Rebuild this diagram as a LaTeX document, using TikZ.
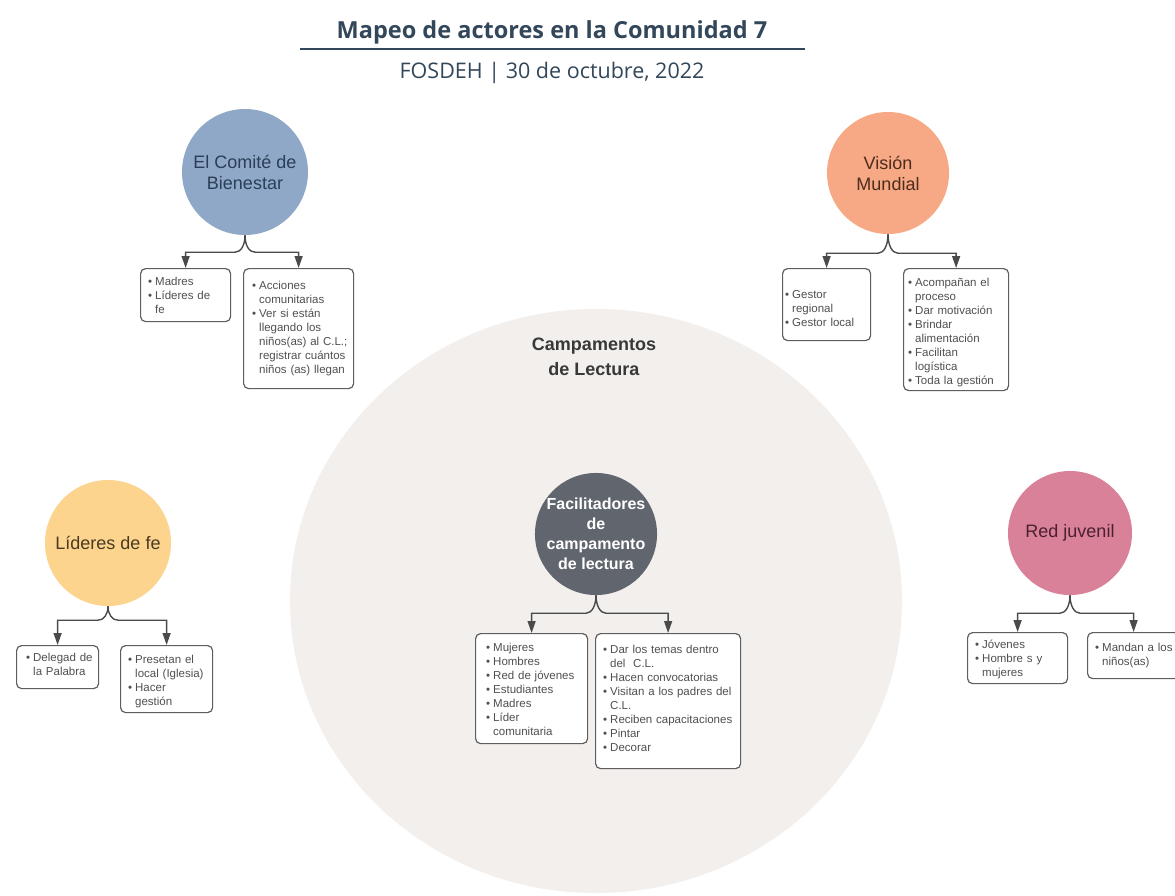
\documentclass[tikz,border=0pt]{standalone}
\usepackage{fontspec}
\setmainfont{Liberation Sans}
\newfontfamily\titlefont{Open Sans}
\usetikzlibrary{arrows.meta,shapes.geometric}
\definecolor{titc}{HTML}{33475B}
\definecolor{comc}{HTML}{8FA8C8}
\definecolor{comt}{HTML}{2B3E57}
\definecolor{visc}{HTML}{F6A984}
\definecolor{vist}{HTML}{4D2C1E}
\definecolor{lidc}{HTML}{FCD48E}
\definecolor{lidt}{HTML}{4A3A22}
\definecolor{redc}{HTML}{D98199}
\definecolor{redt}{HTML}{4B2030}
\definecolor{facc}{HTML}{61666E}
\definecolor{bigc}{HTML}{F2EFED}
\definecolor{boxc}{HTML}{5E5E5E}
\definecolor{btc}{HTML}{505050}
\definecolor{connc}{HTML}{4A4A4A}
\newcommand\bl{\makebox[7pt][l]{•}}
\newcommand\ct{\hspace*{7pt}}
\begin{document}
\begin{tikzpicture}[x=1pt,y=-1pt,
  actor/.style={circle, inner sep=0pt, align=center, font=\fontsize{18}{21}\selectfont},
  box/.style={draw=boxc, line width=1.2pt, rounded corners=5pt, fill=white, anchor=north west, inner sep=0pt},
  btxt/.style={anchor=north west, inner sep=0pt, align=left, text width=170pt, text=btc, font=\fontsize{11.5}{14}\selectfont},
  conn/.style={draw=connc, line width=1.4pt, -{Triangle[width=8pt,length=12pt]}}]
\useasboundingbox (0,0) rectangle (1175,895);
\fill[white] (0,0) rectangle (1175,895);

% header
\node[anchor=base, text=titc, font=\titlefont\bfseries\fontsize{23.5}{28}\selectfont] (title) at (552,38) {Mapeo de actores en la Comunidad 7};
\coordinate (hl1) at (300,49);
\coordinate (hl2) at (805,49);
\draw[titc, line width=1.6pt] (hl1) -- (hl2);
\node[anchor=base, text=titc, font=\titlefont\fontsize{21.5}{26}\selectfont] (sub) at (552,78) {FOSDEH | 30 de octubre, 2022};

% big circle
\node[ellipse, fill=bigc, inner sep=0pt, minimum width=612pt, minimum height=584pt] (camp) at (596,601) {};
\node[align=center, text=black!78, font=\bfseries\fontsize{18}{25}\selectfont] (camplbl) at (594,357) {Campamentos\\de Lectura};

% actors
\node[actor, fill=comc, text=comt, minimum size=126pt] (com) at (245,172) {El Comité de\\Bienestar};
\node[actor, fill=visc, text=vist, minimum size=122pt] (vis) at (888,173) {Visión\\Mundial};
\node[actor, fill=lidc, text=lidt, minimum size=126pt] (lid) at (108,543) {Líderes de fe};
\node[actor, fill=redc, text=redt, minimum size=124pt] (red) at (1070,533) {Red juvenil};
\node[actor, fill=facc, text=white, minimum size=122pt, font=\bfseries\fontsize{16}{20}\selectfont] (fac) at (596,534) {Facilitadores\\de\\campamento\\de lectura};

% boxes
\node[box, minimum width=90pt, minimum height=53pt] (comL) at (140,268) {};
\node[box, minimum width=110pt, minimum height=120pt] (comR) at (243,268) {};
\node[box, minimum width=88pt, minimum height=72pt] (visL) at (782,268) {};
\node[box, minimum width=105pt, minimum height=122pt] (visR) at (903,268) {};
\node[box, minimum width=112pt, minimum height=110pt] (facL) at (475,633) {};
\node[box, minimum width=145pt, minimum height=135pt] (facR) at (595,633) {};
\node[box, minimum width=82pt, minimum height=43pt] (lidL) at (16,645) {};
\node[box, minimum width=92pt, minimum height=67pt] (lidR) at (120,645) {};
\node[box, minimum width=100pt, minimum height=51pt] (redL) at (967,632) {};
\node[box, minimum width=92pt, minimum height=46pt] (redR) at (1087,632) {};

% box texts
\node[btxt] (comLt) at ([shift={(8,7)}]comL.north west) {\strut\bl Madres\\\bl Líderes de\\\ct fe};
\node[btxt] (comRt) at ([shift={(9,11)}]comR.north west) {\strut\bl Acciones\\\ct comunitarias\\\bl Ver si están\\\ct llegando los\\\ct niños(as) al C.L.;\\\ct registrar cuántos\\\ct niños (as) llegan};
\node[btxt] (visLt) at ([shift={(3,20)}]visL.north west) {\strut\bl Gestor\\\ct regional\\\bl Gestor local};
\node[btxt] (visRt) at ([shift={(5,8)}]visR.north west) {\strut\bl Acompañan el\\\ct proceso\\\bl Dar motivación\\\bl Brindar\\\ct alimentación\\\bl Facilitan\\\ct logística\\\bl Toda la gestión};
\node[btxt] (facLt) at ([shift={(11,8)}]facL.north west) {\strut\bl Mujeres\\\bl Hombres\\\bl Red de jóvenes\\\bl Estudiantes\\\bl Madres\\\bl Líder\\\ct comunitaria};
\node[btxt] (facRt) at ([shift={(8,10)}]facR.north west) {\strut\bl Dar los temas dentro\\\ct del~ C.L.\\\bl Hacen convocatorias\\\bl Visitan a los padres del\\\ct C.L.\\\bl Reciben capacitaciones\\\bl Pintar\\\bl Decorar};
\node[btxt] (lidLt) at ([shift={(10,6)}]lidL.north west) {\strut\bl Delegad de\\\ct la Palabra};
\node[btxt] (lidRt) at ([shift={(8,8)}]lidR.north west) {\strut\bl Presetan el\\\ct local (Iglesia)\\\bl Hacer\\\ct gestión};
\node[btxt] (redLt) at ([shift={(8,6)}]redL.north west) {\strut\bl Jóvenes\\\bl Hombre s y\\\ct mujeres};
\node[btxt] (redRt) at ([shift={(8,9)}]redR.north west) {\strut\bl Mandan a los\\\ct niños(as)};

% connectors
\draw[conn] (com.south) .. controls +(0,10) and +(6,0) .. ++(-10,17) -| (comL.north);
\draw[conn] (com.south) .. controls +(0,10) and +(-6,0) .. ++(10,17) -| (comR.north);
\draw[conn] (vis.south) .. controls +(0,11) and +(6,0) .. ++(-10,19) -| (visL.north);
\draw[conn] (vis.south) .. controls +(0,11) and +(-6,0) .. ++(10,19) -| (visR.north);
\draw[conn] (fac.south) .. controls +(0,10) and +(6,0) .. ++(-10,18) -| (facL.north);
\draw[conn] (fac.south) .. controls +(0,10) and +(-6,0) .. ++(10,18) -| (facR.north);
\draw[conn] (lid.south) .. controls +(0,8) and +(6,0) .. ++(-10,14) -| (lidL.north);
\draw[conn] (lid.south) .. controls +(0,8) and +(-6,0) .. ++(10,14) -| (lidR.north);
\draw[conn] (red.south) .. controls +(0,10) and +(6,0) .. ++(-10,18) -| (redL.north);
\draw[conn] (red.south) .. controls +(0,10) and +(-6,0) .. ++(10,18) -| (redR.north);
\end{tikzpicture}
\end{document}
